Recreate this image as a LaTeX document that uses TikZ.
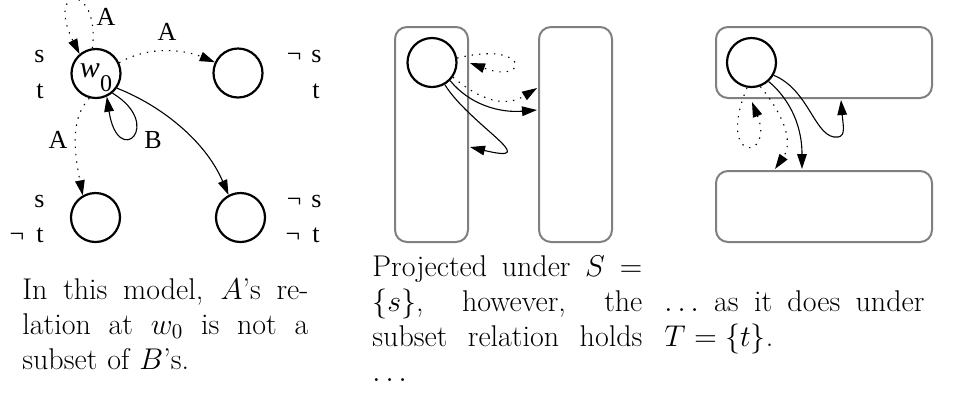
\RequirePackage{fix-cm}
\documentclass[tikz,border=0pt]{standalone}
\usepackage{fontspec}
\newfontfamily\figfont{Liberation Serif}
\definecolor{boxgray}{RGB}{128,128,128}
\usetikzlibrary{arrows.meta}
% one justified caption line
\newcommand{\capline}[1]{\makebox[\hsize][s]{\spaceskip=.3333em plus 1em\relax #1}}

\begin{document}
\begin{tikzpicture}[x=0.5pt, y=-0.5pt,
  world/.style={circle, draw, line width=1.1pt, minimum size=24.5pt, inner sep=0pt},
  proj/.style={draw=boxgray, line width=1pt, rounded corners=6pt, inner sep=0pt},
  rel/.style={line width=0.55pt, -{Triangle[length=7.5pt,width=4.8pt]}},
  arel/.style={rel, dash pattern=on 0.7pt off 3pt},
  lbl/.style={font=\figfont\fontsize{13}{15}\selectfont, inner sep=0pt},
  captext/.style={font=\fontsize{15}{17.5}\selectfont, anchor=base west, inner sep=0pt}]
  \useasboundingbox (0,0) rectangle (974,404);

  % Model: four worlds
  \node[world] (w0) at (96,73.5) {\makebox[0pt]{\figfont\rule{0pt}{11.5pt}{\fontsize{15}{15}\selectfont\itshape w}\raisebox{-7pt}{\fontsize{12}{12}\selectfont 0}}};
  \node[world] (wa) at (238,73) {};
  \node[world] (wb) at (95.5,217.5) {};
  \node[world] (wc) at (240.5,217.5) {};

  % Valuations
  \node[lbl, anchor=base east] (vs0) at (45,62) {s};
  \node[lbl, anchor=base east] (vt0) at (44,98) {t};
  \node[lbl, anchor=base east] (vsa) at (322,62) {¬\hspace{5pt}s};
  \node[lbl, anchor=base east] (vta) at (320,98) {t};
  \node[lbl, anchor=base east] (vsb) at (45,207) {s};
  \node[lbl, anchor=base east] (vtb) at (44,242) {¬\hspace{6pt}t};
  \node[lbl, anchor=base east] (vsc) at (322,207) {¬\hspace{5pt}s};
  \node[lbl, anchor=base east] (vtc) at (320,242) {¬\hspace{6pt}t};

  % Relations A (dotted) and B (solid)
  \draw[arel] (w0.98) .. controls (100,-18) and (45,-15) .. (w0.130);
  \node[lbl] (la1) at (106,17) {A};
  \draw[arel] (w0.25) .. controls (150,45) and (185,50) .. (wa.155);
  \node[lbl] (la2) at (167,32) {A};
  \draw[arel] (w0.255) .. controls (68,120) and (76,160) .. (wb.120);
  \node[lbl] (la3) at (58,140) {A};
  \draw[rel] (w0.-50) .. controls (165,125) and (118,170) .. (w0.-65);
  \node[lbl] (lb1) at (153,140) {B};
  \draw[rel] (w0.-35) .. controls (160,105) and (205,140) .. (wc.118);

  % Projection under S
  \node[proj, minimum width=36.5pt, minimum height=107.5pt] (sL) at (431.5,134.5) {};
  \node[proj, minimum width=36.5pt, minimum height=107.5pt] (sR) at (575.5,134.5) {};
  \node[world] (s0) at (432,62.5) {};
  \coordinate (sa) at (470,63);
  \coordinate (sb) at (537,88);
  \coordinate (sc) at (537,110);
  \coordinate (sd) at (470,147);
  \draw[arel] (s0.10) .. controls (530,40) and (530,85) .. (sa);
  \draw[arel] (s0.-35) .. controls (480,100) and (505,108) .. (sb);
  \draw[rel] (s0.-45) .. controls (470,105) and (500,113) .. (sc);
  \draw[rel] (s0.-60) .. controls (470,125) and (545,165) .. (sd);

  % Projection under T
  \node[proj, minimum width=108pt, minimum height=35.5pt] (tU) at (824,62.5) {};
  \node[proj, minimum width=108pt, minimum height=35.5pt] (tD) at (824,206.5) {};
  \node[world] (t0) at (751.5,62.5) {};
  \coordinate (ta) at (752,102);
  \coordinate (tb) at (775,169);
  \coordinate (tc) at (802,169);
  \coordinate (td) at (841,100);
  \draw[arel] (t0.-100) .. controls (715,165) and (775,160) .. (ta);
  \draw[arel] (t0.-70) .. controls (780,110) and (795,140) .. (tb);
  \draw[rel] (t0.-48) .. controls (785,95) and (802,120) .. (tc);
  \draw[rel] (t0.-30) .. controls (810,90) and (815,140) .. (838,137) .. controls (846,136) and (843,125) .. (td);

  % Captions
  \node[captext, text width=143pt] (capA) at (22,299) {\capline{In this model, $A$'s re-}\\\capline{lation at $w_0$ is not a}\\subset of $B$'s.};
  \node[captext, text width=135pt] (capS) at (372,276) {\capline{Projected under $S$~$=$}\\\capline{$\{s\}$, however, the}\\\capline{subset relation holds}\\$\ldots$};
  \node[captext, text width=130pt] (capT) at (664,311) {\capline{$\ldots$ as it does under}\\$T=\{t\}$.};
\end{tikzpicture}
\end{document}
